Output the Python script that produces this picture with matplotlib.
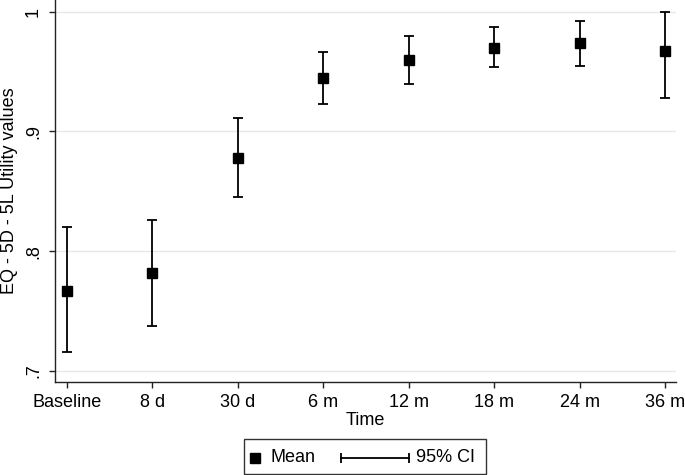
#!/usr/bin/env python3

import matplotlib
matplotlib.use('Agg')
import matplotlib.pyplot as plt
from matplotlib.lines import Line2D
from matplotlib.patches import Rectangle
import numpy as np

##################

times = ['Baseline', '8 d', '30 d', '6 m', '12 m', '18 m', '24 m', '36 m']
mean_vals = [0.767, 0.782, 0.878, 0.945, 0.960, 0.970, 0.974, 0.967]
ci_low = [0.716, 0.737, 0.845, 0.923, 0.940, 0.954, 0.955, 0.928]
ci_high = [0.820, 0.826, 0.911, 0.966, 0.980, 0.987, 0.992, 1.000]
ytick_vals = [0.7, 0.8, 0.9, 1.0]
ytick_labels = ['.7', '.8', '.9', '1']

##################

plt.rcParams['font.family'] = ['Liberation Sans', 'DejaVu Sans']

W, H = 685, 475
fig = plt.figure(figsize=(W / 100, H / 100), dpi=100)
ax = fig.add_axes([55 / W, 1 - 382 / H, 621 / W, 382 / H])

x = np.arange(len(times))
mean = np.array(mean_vals)
yerr = np.vstack([mean - np.array(ci_low), np.array(ci_high) - mean])

ax.errorbar(x, mean, yerr=yerr, fmt='s', color='black', ms=7,
            elinewidth=1.3, capsize=3.3, capthick=1.3, zorder=3)

# grid + axes, Stata look
for v in ytick_vals:
    ax.axhline(v, color='#e8e8e8', lw=1, zorder=0)

ax.set_xlim(-0.137, 7.125)
ax.set_ylim(0.6906, 1.0098)
ax.set_xticks(x)
ax.set_xticklabels(times)
ax.set_yticks(ytick_vals)
ax.set_yticklabels(ytick_labels, rotation=90, va='center')

for s in ['top', 'right']:
    ax.spines[s].set_visible(False)
for s in ['left', 'bottom']:
    ax.spines[s].set_color('#222222')
    ax.spines[s].set_linewidth(1)

ax.tick_params(axis='both', length=4.3, width=1, color='#222222', labelsize=13)
ax.tick_params(axis='x', pad=4.5)
ax.tick_params(axis='y', pad=5)

ax.set_ylabel('EQ - 5D - 5L Utility values', fontsize=13, va='center')
ax.yaxis.set_label_coords(-0.0735, 0.5)
ax.set_xlabel('Time', fontsize=13, va='top')
ax.xaxis.set_label_coords(0.5, -0.078)

# legend box, drawn by hand
def fx(px):
    return px / W

def fy(py):
    return 1 - py / H

fig.add_artist(Rectangle((fx(244), fy(474)), fx(486) - fx(244), fy(439) - fy(474),
                         transform=fig.transFigure, fill=False, ec='#333333', lw=1))
yc = fy(458)
fig.add_artist(Line2D([fx(255)], [yc], marker='s', ms=7, color='black', ls='none',
                      transform=fig.transFigure))
fig.text(fx(270), yc, 'Mean', fontsize=13, va='center', ha='left')
fig.add_artist(Line2D([fx(341), fx(408.5)], [yc, yc], marker='|', ms=7, mew=1.3,
                      lw=1.3, color='black', transform=fig.transFigure))
fig.text(fx(416), yc, '95% CI', fontsize=13, va='center', ha='left')

fig.savefig('out.png', dpi=100)
